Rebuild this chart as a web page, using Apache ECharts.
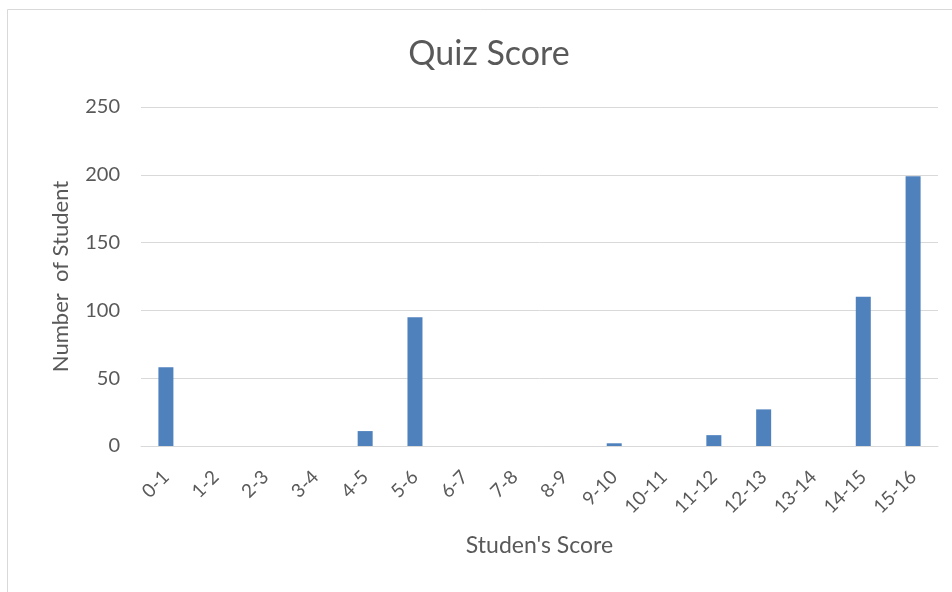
<!DOCTYPE html>
<html><head><meta charset="utf-8">
<script src="https://cdn.jsdelivr.net/npm/echarts@6/dist/echarts.min.js"></script>
<style>html,body{margin:0;padding:0;background:#fff}#c{width:952px;height:592px}</style>
</head><body><div id="c"></div>
<script>
var categories = ['0-1','1-2','2-3','3-4','4-5','5-6','6-7','7-8','8-9','9-10','10-11','11-12','12-13','13-14','14-15','15-16'];
var students = [58, 0, 0, 0, 11, 95, 0, 0, 0, 2, 0, 8, 27, 0, 110, 199];
var yTicks = [0, 50, 100, 150, 200, 250];

var chart = echarts.init(document.getElementById('c'), null, {renderer:'canvas'});
var font = 'Lato, "Open Sans", sans-serif';
chart.setOption({
  animation: false,
  backgroundColor: '#fff',
  graphic: [{type:'rect', shape:{x:7.5,y:9.5,width:960,height:600}, style:{fill:'none', stroke:'#d9d9d9', lineWidth:1}}],
  title: {text:'Quiz Score', left:484, top:32, textAlign:'center',
    textStyle:{fontFamily:font, fontWeight:'normal', fontSize:34, color:'#595959'}},
  grid: {left:141, right:14, top:107, bottom:146},
  xAxis: {type:'category', data:categories,
    name:"Studen's Score", nameLocation:'middle', nameGap:88,
    nameTextStyle:{fontFamily:font, fontSize:23, color:'#595959'},
    axisLine:{lineStyle:{color:'#d9d9d9'}}, axisTick:{show:false},
    axisLabel:{rotate:45, interval:0, margin:28, fontFamily:font, fontSize:19, color:'#595959'}},
  yAxis: {type:'value', min:yTicks[0], max:yTicks[yTicks.length-1], interval:50,
    name:'Number  of Student', nameLocation:'middle', nameGap:69,
    nameTextStyle:{fontFamily:font, fontSize:22, color:'#595959'},
    axisLine:{show:false}, axisTick:{show:false},
    axisLabel:{margin:21, fontFamily:font, fontSize:20, color:'#595959'},
    splitLine:{lineStyle:{color:'#d9d9d9'}}},
  series: [{type:'bar', data:students, barWidth:15,
    itemStyle:{color:'#4f81bd'}}]
});
</script></body></html>
